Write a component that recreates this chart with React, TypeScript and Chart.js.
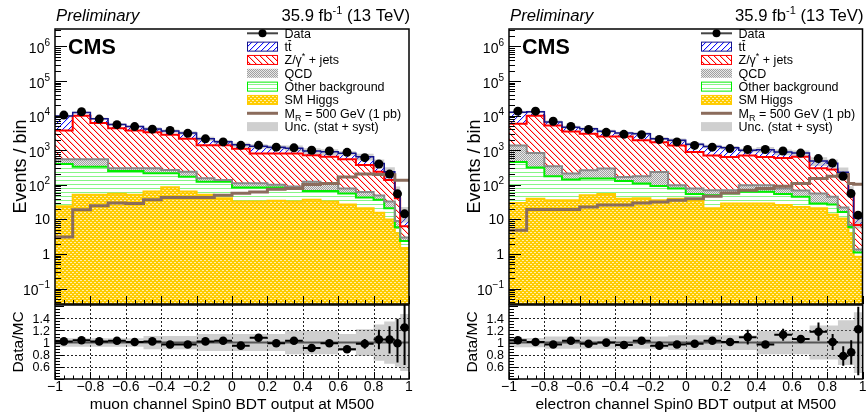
import React, { useEffect, useRef } from "react";
import { Chart, registerables } from "chart.js";

Chart.register(...registerables);

// ---------- binning / axes ----------
const BIN_EDGES = [-1, -0.9, -0.8, -0.7, -0.6, -0.5, -0.4, -0.3, -0.2, -0.1, 0, 0.1, 0.2, 0.3, 0.4, 0.5, 0.6, 0.7, 0.8, 0.86, 0.92, 0.95, 1];
const X_TICK_VALUES = [-1, -0.8, -0.6, -0.4, -0.2, 0, 0.2, 0.4, 0.6, 0.8, 1];
const X_TICK_LABELS = ["\u22121", "\u22120.8", "\u22120.6", "\u22120.4", "\u22120.2", "0", "0.2", "0.4", "0.6", "0.8", "1"];
const Y_DECADES = [0.1, 1, 10, 100, 1000, 1e4, 1e5, 1e6];
const Y_DECADE_BASES = ["10", "1", "10", "10", "10", "10", "10", "10"];
const Y_DECADE_EXPS = ["\u22121", "", "", "2", "3", "4", "5", "6"];
const RATIO_TICKS = [0.6, 0.8, 1, 1.2, 1.4];
const RATIO_TICK_LABELS = ["0.6", "0.8", "1", "1.2", "1.4"];
const Y_MIN = 0.036;
const Y_MAX = 3.2e6;
const R_MIN = 0.4;
const R_MAX = 1.62;

const MU_X_TITLE = "muon channel Spin0 BDT output at M500";
const EL_X_TITLE = "electron channel Spin0 BDT output at M500";

// ---------- muon channel ----------
const MU_HIGGS = [24, 52, 52, 55, 52, 64, 85, 64, 52, 41, 33, 33, 35, 33, 37, 33, 27, 21, 15.5, 10, 4, 1.5];
const MU_OTHER = [376, 281, 281, 195, 198, 151, 130, 109, 72, 83, 51, 51, 49, 47, 30, 34, 29, 22, 21.5, 11, 2, 0.9];
const MU_QCD = [150, 217, 217, 50, 50, 85, 55, 67, 31, 14, 28, 28, 16, 10, 57, 43, 22, 19, 12, 12, 3, 0.6];
const MU_DY = [3180, 9450, 5600, 4040, 3430, 3030, 2520, 1910, 1235, 1252, 998, 688, 700, 710, 596, 535, 472, 310, 191, 105, 32, 3.4];
const MU_TT = [6000, 2400, 2050, 1260, 1120, 810, 810, 1020, 760, 360, 340, 500, 430, 350, 240, 255, 270, 273, 175, 102, 23, 9.1];
const MU_SIGNAL = [3.1, 19, 25, 30, 29, 37, 43, 43, 43, 50, 57, 62, 75, 78, 102, 110, 170, 205, 200, 195, 137, 137];
const MU_DATA = [10400, 13000, 7950, 5500, 4840, 4070, 3720, 3090, 2140, 1740, 1390, 1390, 1230, 1175, 1000, 955, 870, 610, 400, 205, 55, 14.5];
const MU_RATIO = [1.02, 1.04, 1.02, 1.03, 1.01, 1.02, 0.97, 0.97, 1.02, 1.03, 0.95, 1.08, 0.99, 1.03, 0.91, 0.99, 0.89, 0.98, 1.05, 1.05, 0.99, 1.25];
const MU_RATIO_ERR_UP = [0.01, 0.01, 0.01, 0.015, 0.015, 0.015, 0.02, 0.02, 0.02, 0.025, 0.03, 0.03, 0.03, 0.03, 0.035, 0.035, 0.04, 0.08, 0.16, 0.22, 0.4, 0.5];
const MU_RATIO_ERR_DN = [0.01, 0.01, 0.01, 0.015, 0.015, 0.015, 0.02, 0.02, 0.02, 0.025, 0.03, 0.03, 0.03, 0.03, 0.035, 0.035, 0.04, 0.08, 0.16, 0.23, 0.32, 0.62];
const MU_UNC = [0.07, 0.07, 0.07, 0.07, 0.07, 0.11, 0.11, 0.11, 0.14, 0.14, 0.14, 0.14, 0.14, 0.19, 0.19, 0.19, 0.14, 0.22, 0.3, 0.35, 0.4, 0.47];

// ---------- electron channel ----------
const EL_HIGGS = [30, 40, 36, 36, 50, 54, 40, 41, 36, 40, 36, 21, 29, 29, 29, 26, 23, 21, 14, 10.7, 4, 0.83];
const EL_OTHER = [428, 275, 142, 106, 102, 98, 90, 68, 57, 38, 18, 29, 27, 34, 34, 28, 22, 8, 13, 5.8, 2.1, 0.27];
const EL_QCD = [922, 515, 167, 70, 112, 143, 39, 69, 142, 19, 24, 20, 14, 34, 34, 24, 24, 27, 18, 5.5, 0.8, 0.26];
const EL_DY = [4470, 9170, 4855, 3288, 2736, 2205, 2331, 1762, 1465, 1283, 812, 640, 565, 613, 543, 522, 581, 244, 235, 178, 53, 5.6];
const EL_TT = [6650, 3000, 1400, 1150, 1170, 1060, 640, 1060, 450, 560, 590, 580, 555, 290, 400, 290, 180, 190, 140, 31, 7, 4];
const EL_SIGNAL = [4.9, 19.4, 19.4, 19.4, 23, 26, 26, 30, 32, 36, 40, 47, 58, 70, 78, 91, 109, 152, 177, 200, 110, 104];
const EL_DATA = [13500, 13500, 6900, 4900, 4000, 3300, 2880, 2820, 2050, 1740, 1380, 1230, 1120, 1050, 1050, 950, 830, 575, 425, 178, 56, 13.3];
const EL_RATIO = [1.04, 1.01, 0.97, 1.03, 0.98, 1.0, 0.96, 1.03, 0.95, 0.97, 0.98, 1.03, 1.01, 1.09, 0.97, 1.13, 1.06, 1.18, 1.01, 0.78, 0.84, 1.22];
const EL_RATIO_ERR_UP = [0.01, 0.01, 0.015, 0.015, 0.02, 0.02, 0.02, 0.02, 0.025, 0.025, 0.03, 0.035, 0.035, 0.12, 0.04, 0.1, 0.06, 0.15, 0.13, 0.16, 0.2, 0.37];
const EL_RATIO_ERR_DN = [0.01, 0.01, 0.015, 0.015, 0.02, 0.02, 0.02, 0.02, 0.025, 0.025, 0.03, 0.035, 0.035, 0.12, 0.04, 0.1, 0.06, 0.15, 0.13, 0.16, 0.2, 0.76];
const EL_UNC = [0.075, 0.075, 0.1, 0.1, 0.1, 0.1, 0.1, 0.1, 0.1, 0.12, 0.12, 0.12, 0.12, 0.12, 0.19, 0.19, 0.19, 0.28, 0.28, 0.37, 0.37, 0.5];

// ---------- style ----------
const FONT = '"Liberation Sans", Arial, Helvetica, sans-serif';
const UNC_COLOR = "rgba(140,140,140,0.42)";
const COL_TT_LINE = "#14148c";
const COL_DY_LINE = "#ff0000";
const COL_QCD_LINE = "#888888";
const COL_OTHER_LINE = "#00ee00";
const COL_HIGGS_LINE = "#ffcc00";
const COL_SIGNAL = "rgb(139,108,92)";

type Panel = {
  left: number; width: number;
  higgs: number[]; other: number[]; qcd: number[]; dy: number[]; tt: number[];
  signal: number[]; data: number[]; ratio: number[]; errUp: number[]; errDn: number[]; unc: number[];
  xTitle: string;
};

const PANELS: Panel[] = [
  { left: 0, width: 433, higgs: MU_HIGGS, other: MU_OTHER, qcd: MU_QCD, dy: MU_DY, tt: MU_TT, signal: MU_SIGNAL, data: MU_DATA, ratio: MU_RATIO, errUp: MU_RATIO_ERR_UP, errDn: MU_RATIO_ERR_DN, unc: MU_UNC, xTitle: MU_X_TITLE },
  { left: 454, width: 413, higgs: EL_HIGGS, other: EL_OTHER, qcd: EL_QCD, dy: EL_DY, tt: EL_TT, signal: EL_SIGNAL, data: EL_DATA, ratio: EL_RATIO, errUp: EL_RATIO_ERR_UP, errDn: EL_RATIO_ERR_DN, unc: EL_UNC, xTitle: EL_X_TITLE },
];

const PLOT_L = 55;
const PLOT_R = 409;
const MAIN_T = 29;
const MAIN_B = 304;
const RATIO_T = 305;
const RATIO_B = 379;
const H = 412;

// ---------- helpers ----------
function stepPoints(vals: number[]) {
  const pts = vals.map((v, i) => ({ x: BIN_EDGES[i], y: v }));
  pts.push({ x: BIN_EDGES[vals.length], y: vals[vals.length - 1] });
  return pts;
}
function binCenters() {
  const c: number[] = [];
  for (let i = 0; i < BIN_EDGES.length - 1; i++) c.push((BIN_EDGES[i] + BIN_EDGES[i + 1]) / 2);
  return c;
}
function cumulative(layers: number[][]) {
  const out: number[][] = [];
  let run = layers[0].map(() => 0);
  layers.forEach((l) => {
    run = run.map((r, i) => r + l[i]);
    out.push(run.slice());
  });
  return out;
}

type Part = { t: string; size: number; dy?: number; style?: string };
function setFont(ctx: CanvasRenderingContext2D, p: Part) {
  ctx.font = `${p.style || ""} ${p.size}px ${FONT}`;
}
function drawRich(ctx: CanvasRenderingContext2D, parts: Part[], x: number, y: number, align: "left" | "right" | "center") {
  ctx.textAlign = "left";
  ctx.textBaseline = "alphabetic";
  const widths = parts.map((p) => { setFont(ctx, p); return ctx.measureText(p.t).width; });
  const total = widths.reduce((a, b) => a + b, 0);
  let cx = align === "left" ? x : align === "right" ? x - total : x - total / 2;
  parts.forEach((p, i) => {
    setFont(ctx, p);
    ctx.fillText(p.t, cx, y + (p.dy || 0));
    cx += widths[i];
  });
  return total;
}

function makeTile(w: number, h: number, draw: (g: CanvasRenderingContext2D) => void): CanvasPattern {
  const c = document.createElement("canvas");
  c.width = w; c.height = h;
  const g = c.getContext("2d")!;
  draw(g);
  return g.createPattern(c, "repeat")!;
}

function makePatterns() {
  const hatch = (color: string, forward: boolean, soft: number) =>
    makeTile(6, 6, (g) => {
      g.fillStyle = "#ffffff"; g.fillRect(0, 0, 6, 6);
      g.fillStyle = color;
      for (let i = 0; i < 6; i++) {
        const x = forward ? 5 - i : i;
        g.fillRect(x, i, 1, 1);
      }
      if (soft > 0) {
        g.globalAlpha = soft;
        for (let i = 0; i < 6; i++) {
          const x = forward ? (6 - i) % 6 : (i + 1) % 6;
          g.fillRect(x, i, 1, 1);
        }
      }
    });
  const tt = hatch("#1010ff", true, 0.15);
  const dy = hatch("#ff0000", false, 0.25);
  const other = makeTile(4, 4, (g) => {
    g.fillStyle = "#ffffff"; g.fillRect(0, 0, 4, 4);
    g.fillStyle = "rgb(135,245,135)"; g.fillRect(0, 0, 4, 1);
  });
  const qcd = makeTile(2, 2, (g) => {
    g.fillStyle = "rgb(232,232,232)"; g.fillRect(0, 0, 2, 2);
    g.fillStyle = "rgb(160,160,160)"; g.fillRect(0, 0, 1, 1); g.fillRect(1, 1, 1, 1);
  });
  const higgs = makeTile(4, 4, (g) => {
    g.fillStyle = "#ffcc00"; g.fillRect(0, 0, 4, 4);
    g.fillStyle = "rgb(255,238,170)";
    g.fillRect(0, 0, 1, 1); g.fillRect(1, 0, 1, 1); g.fillRect(2, 2, 1, 1); g.fillRect(3, 2, 1, 1);
  });
  return { tt, dy, other, qcd, higgs };
}
type Pats = ReturnType<typeof makePatterns>;

// ---------- main (log) chart ----------
function mainConfig(p: Panel, pats: Pats): any {
  const cum = cumulative([p.higgs, p.other, p.qcd, p.dy, p.tt]);
  const total = cum[4];
  const centers = binCenters();
  const base = { stepped: true, pointRadius: 0, tension: 0 };
  const datasets = [
    { ...base, data: stepPoints(cum[0]), fill: "start", backgroundColor: pats.higgs, borderColor: COL_HIGGS_LINE, borderWidth: 2, order: 9 },
    { ...base, data: stepPoints(cum[1]), fill: "-1", backgroundColor: pats.other, borderColor: COL_OTHER_LINE, borderWidth: 2, order: 8 },
    { ...base, data: stepPoints(cum[2]), fill: "-1", backgroundColor: pats.qcd, borderColor: COL_QCD_LINE, borderWidth: 2, order: 7 },
    { ...base, data: stepPoints(cum[3]), fill: "-1", backgroundColor: pats.dy, borderColor: COL_DY_LINE, borderWidth: 2, order: 6 },
    { ...base, data: stepPoints(cum[4]), fill: "-1", backgroundColor: pats.tt, borderColor: COL_TT_LINE, borderWidth: 1.5, order: 5 },
    { ...base, data: stepPoints(total.map((t, i) => t * (1 - p.unc[i]))), fill: false, borderColor: "rgba(0,0,0,0)", borderWidth: 1, order: 4 },
    { ...base, data: stepPoints(total.map((t, i) => t * (1 + p.unc[i]))), fill: "-1", backgroundColor: UNC_COLOR, borderColor: "rgba(0,0,0,0)", borderWidth: 1, order: 3 },
    { ...base, data: stepPoints(p.signal), fill: false, borderColor: COL_SIGNAL, borderWidth: 3, order: 2 },
    { data: centers.map((x, i) => ({ x, y: p.data[i] })), showLine: false, pointRadius: 4.5, pointBackgroundColor: "#000", pointBorderColor: "#000", pointBorderWidth: 0, fill: false, order: 1 },
  ];

  const plugin = {
    id: "rootMain",
    afterDraw(chart: any) {
      const ctx: CanvasRenderingContext2D = chart.ctx;
      const a = chart.chartArea;
      const xs = chart.scales.x;
      const ys = chart.scales.y;
      ctx.save();
      ctx.fillStyle = "#000";
      ctx.strokeStyle = "#000";
      // ticks
      ctx.lineWidth = 1;
      ctx.beginPath();
      for (let e = -2; e <= 6; e++) {
        for (let k = 1; k <= 9; k++) {
          const v = k * Math.pow(10, e);
          if (v < ys.min || v > ys.max) continue;
          const y = Math.round(ys.getPixelForValue(v)) + 0.5;
          const len = k === 1 ? 12 : 6;
          ctx.moveTo(a.left, y); ctx.lineTo(a.left + len, y);
        }
      }
      for (let i = 0; i <= 40; i++) {
        const v = -1 + i * 0.05;
        const x = Math.round(xs.getPixelForValue(v)) + 0.5;
        const len = i % 4 === 0 ? 8 : 4;
        ctx.moveTo(x, a.bottom); ctx.lineTo(x, a.bottom - len);
      }
      ctx.stroke();
      // frame
      ctx.lineWidth = 1.5;
      ctx.strokeRect(a.left, a.top, a.right - a.left, a.bottom - a.top);

      // y tick labels
      Y_DECADES.forEach((v, i) => {
        const y = ys.getPixelForValue(v);
        const baseTxt = Y_DECADE_BASES[i];
        const exp = Y_DECADE_EXPS[i];
        const parts: Part[] = [{ t: baseTxt, size: 14 }];
        if (exp) parts.push({ t: exp, size: 10, dy: -7 });
        drawRich(ctx, parts, a.left - 5, y + (exp ? 6.5 : 5), "right");
      });

      // y title
      ctx.save();
      ctx.translate(25.5, (a.top + a.bottom) / 2);
      ctx.rotate(-Math.PI / 2);
      drawRich(ctx, [{ t: "Events / bin", size: 18 }], 0, 0, "center");
      ctx.restore();

      // header
      drawRich(ctx, [{ t: "Preliminary", size: 16.7, style: "italic" }], a.left + 1, 20.5, "left");
      drawRich(ctx, [
        { t: "35.9 fb", size: 16.7 },
        { t: "-1", size: 11, dy: -7 },
        { t: " (13 TeV)", size: 16.7 },
      ], a.right + 1, 20.5, "right");
      drawRich(ctx, [{ t: "CMS", size: 21.5, style: "bold" }], a.left + 13, 54, "left");

      // legend
      const sx = a.left + 192;
      const sw = 31;
      const tx = a.left + 229.5;
      const row = (i: number) => 33.3 + 13.33 * i;
      const fs = 12.5;
      const box = (i: number, fill: any, stroke: string | null) => {
        const y = row(i);
        ctx.fillStyle = fill;
        ctx.fillRect(sx, y - 4.5, sw, 9);
        if (stroke) {
          ctx.strokeStyle = stroke; ctx.lineWidth = 1;
          ctx.strokeRect(sx + 0.5, y - 4.5, sw - 1, 9);
        }
        ctx.fillStyle = "#000";
      };
      // Data
      ctx.strokeStyle = "#444"; ctx.lineWidth = 2;
      ctx.beginPath(); ctx.moveTo(sx, row(0)); ctx.lineTo(sx + sw, row(0)); ctx.stroke();
      ctx.fillStyle = "#000";
      ctx.beginPath(); ctx.arc(sx + sw / 2, row(0), 4, 0, Math.PI * 2); ctx.fill();
      box(1, pats.tt, COL_TT_LINE);
      box(2, pats.dy, COL_DY_LINE);
      box(3, pats.qcd, null);
      box(4, pats.other, COL_OTHER_LINE);
      box(5, pats.higgs, COL_HIGGS_LINE);
      ctx.strokeStyle = COL_SIGNAL; ctx.lineWidth = 3;
      ctx.beginPath(); ctx.moveTo(sx, row(6)); ctx.lineTo(sx + sw, row(6)); ctx.stroke();
      box(7, UNC_COLOR, null);

      ctx.fillStyle = "#000";
      const by = (i: number) => row(i) + 4.5;
      drawRich(ctx, [{ t: "Data", size: fs }], tx, by(0), "left");
      drawRich(ctx, [{ t: "tt", size: fs }], tx, by(1), "left");
      ctx.font = `${fs}px ${FONT}`;
      const w1 = ctx.measureText("t").width;
      const w2 = ctx.measureText("tt").width;
      ctx.strokeStyle = "#000"; ctx.lineWidth = 1;
      ctx.beginPath(); ctx.moveTo(tx + w1 + 0.3, by(1) - 10.5); ctx.lineTo(tx + w2 - 0.3, by(1) - 10.5); ctx.stroke();
      drawRich(ctx, [{ t: "Z/\u03b3", size: fs }, { t: "*", size: 9, dy: -5 }, { t: " + jets", size: fs }], tx, by(2), "left");
      drawRich(ctx, [{ t: "QCD", size: fs }], tx, by(3), "left");
      drawRich(ctx, [{ t: "Other background", size: fs }], tx, by(4), "left");
      drawRich(ctx, [{ t: "SM Higgs", size: fs }], tx, by(5), "left");
      drawRich(ctx, [{ t: "M", size: fs }, { t: "R", size: 9, dy: 3 }, { t: " = 500 GeV (1 pb)", size: fs }], tx, by(6), "left");
      drawRich(ctx, [{ t: "Unc. (stat + syst)", size: fs }], tx, by(7), "left");
      ctx.restore();
    },
  };

  return {
    type: "line",
    data: { datasets },
    options: {
      animation: false,
      responsive: false,
      events: [],
      layout: { padding: { left: PLOT_L, right: p.width - PLOT_R, top: MAIN_T, bottom: H - MAIN_B } },
      plugins: { legend: { display: false }, tooltip: { enabled: false }, title: { display: false }, filler: { drawTime: "beforeDatasetsDraw", propagate: false } },
      scales: {
        x: { type: "linear", min: -1, max: 1, display: false },
        y: { type: "logarithmic", min: Y_MIN, max: Y_MAX, display: false },
      },
    },
    plugins: [plugin],
  };
}

// ---------- ratio chart ----------
function ratioConfig(p: Panel): any {
  const centers = binCenters();
  const base = { stepped: true, pointRadius: 0, tension: 0 };
  const datasets = [
    { ...base, data: stepPoints(p.unc.map((u) => 1 - u)), fill: false, borderColor: "rgba(0,0,0,0)", borderWidth: 1, order: 4 },
    { ...base, data: stepPoints(p.unc.map((u) => 1 + u)), fill: "-1", backgroundColor: UNC_COLOR, borderColor: "rgba(0,0,0,0)", borderWidth: 1, order: 3 },
    { data: [{ x: -1, y: 1 }, { x: 1, y: 1 }], pointRadius: 0, fill: false, borderColor: "#555", borderWidth: 2, order: 2 },
    { data: centers.map((x, i) => ({ x, y: p.ratio[i] })), showLine: false, pointRadius: 4.3, pointBackgroundColor: "#000", pointBorderColor: "#000", pointBorderWidth: 0, fill: false, order: 1 },
  ];

  const plugin = {
    id: "rootRatio",
    beforeDraw(chart: any) {
      const ctx: CanvasRenderingContext2D = chart.ctx;
      const a = chart.chartArea;
      const xs = chart.scales.x;
      const ys = chart.scales.y;
      ctx.save();
      ctx.strokeStyle = "#222";
      ctx.lineWidth = 1;
      ctx.setLineDash([2, 2]);
      ctx.beginPath();
      RATIO_TICKS.forEach((v) => {
        if (v === 1) return;
        const y = Math.round(ys.getPixelForValue(v)) + 0.5;
        ctx.moveTo(a.left, y); ctx.lineTo(a.right, y);
      });
      X_TICK_VALUES.forEach((v) => {
        if (v === -1 || v === 1) return;
        const x = Math.round(xs.getPixelForValue(v)) + 0.5;
        ctx.moveTo(x, a.top); ctx.lineTo(x, a.bottom);
      });
      ctx.stroke();
      ctx.restore();
    },
    afterDatasetsDraw(chart: any) {
      const ctx: CanvasRenderingContext2D = chart.ctx;
      const a = chart.chartArea;
      const xs = chart.scales.x;
      const ys = chart.scales.y;
      ctx.save();
      ctx.beginPath();
      ctx.rect(a.left, a.top, a.right - a.left, a.bottom - a.top);
      ctx.clip();
      ctx.strokeStyle = "#000";
      ctx.lineWidth = 2;
      ctx.beginPath();
      p.ratio.forEach((r, i) => {
        const y = ys.getPixelForValue(r);
        ctx.moveTo(xs.getPixelForValue(BIN_EDGES[i]), y);
        ctx.lineTo(xs.getPixelForValue(BIN_EDGES[i + 1]), y);
        const xc = xs.getPixelForValue(centers[i]);
        ctx.moveTo(xc, ys.getPixelForValue(r + p.errUp[i]));
        ctx.lineTo(xc, ys.getPixelForValue(r - p.errDn[i]));
      });
      ctx.stroke();
      ctx.restore();
    },
    afterDraw(chart: any) {
      const ctx: CanvasRenderingContext2D = chart.ctx;
      const a = chart.chartArea;
      const xs = chart.scales.x;
      const ys = chart.scales.y;
      ctx.save();
      ctx.fillStyle = "#000";
      ctx.strokeStyle = "#000";
      ctx.lineWidth = 1;
      ctx.beginPath();
      for (let i = 0; i * 0.05 <= R_MAX - 0.4 + 1e-9; i++) {
        const v = 0.4 + i * 0.05;
        if (v < ys.min || v > ys.max) continue;
        const y = Math.round(ys.getPixelForValue(v)) + 0.5;
        const len = i % 4 === 0 ? 9 : 5;
        ctx.moveTo(a.left, y); ctx.lineTo(a.left + len, y);
      }
      for (let i = 0; i <= 40; i++) {
        const v = -1 + i * 0.05;
        const x = Math.round(xs.getPixelForValue(v)) + 0.5;
        const len = i % 4 === 0 ? 7 : 3.5;
        ctx.moveTo(x, a.bottom); ctx.lineTo(x, a.bottom - len);
      }
      ctx.stroke();
      ctx.lineWidth = 1.5;
      ctx.strokeRect(a.left, a.top, a.right - a.left, a.bottom - a.top);

      RATIO_TICKS.forEach((v, i) => {
        drawRich(ctx, [{ t: RATIO_TICK_LABELS[i], size: 12.5 }], a.left - 5, ys.getPixelForValue(v) + 4.5, "right");
      });
      X_TICK_VALUES.forEach((v, i) => {
        drawRich(ctx, [{ t: X_TICK_LABELS[i], size: 14 }], xs.getPixelForValue(v), 391, "center");
      });
      drawRich(ctx, [{ t: p.xTitle, size: 15.5 }], (a.left + a.right) / 2, 408.5, "center");
      ctx.save();
      ctx.translate(22.5, (a.top + a.bottom) / 2);
      ctx.rotate(-Math.PI / 2);
      drawRich(ctx, [{ t: "Data/MC", size: 15.5 }], 0, 0, "center");
      ctx.restore();
      ctx.restore();
    },
  };

  return {
    type: "line",
    data: { datasets },
    options: {
      animation: false,
      responsive: false,
      events: [],
      layout: { padding: { left: PLOT_L, right: p.width - PLOT_R, top: RATIO_T, bottom: H - RATIO_B } },
      plugins: { legend: { display: false }, tooltip: { enabled: false }, title: { display: false }, filler: { drawTime: "beforeDatasetsDraw", propagate: false } },
      scales: {
        x: { type: "linear", min: -1, max: 1, display: false },
        y: { type: "linear", min: R_MIN, max: R_MAX, display: false },
      },
    },
    plugins: [plugin],
  };
}

export default function App() {
  const m0 = useRef<HTMLCanvasElement>(null);
  const r0 = useRef<HTMLCanvasElement>(null);
  const m1 = useRef<HTMLCanvasElement>(null);
  const r1 = useRef<HTMLCanvasElement>(null);
  const mains = [m0, m1];
  const ratios = [r0, r1];

  useEffect(() => {
    const pats = makePatterns();
    const charts: Chart[] = [];
    PANELS.forEach((p, k) => {
      charts.push(new Chart(mains[k].current!, mainConfig(p, pats)));
      charts.push(new Chart(ratios[k].current!, ratioConfig(p)));
    });
    return () => charts.forEach((c) => c.destroy());
  }, []);

  return (
    <div style={{ position: "fixed", left: 0, top: 0, width: 867, height: H, background: "#fff" }}>
      {PANELS.map((p, k) => (
        <React.Fragment key={k}>
          <canvas ref={mains[k]} width={p.width} height={H} style={{ position: "absolute", left: p.left, top: 0, width: p.width, height: H }} />
          <canvas ref={ratios[k]} width={p.width} height={H} style={{ position: "absolute", left: p.left, top: 0, width: p.width, height: H }} />
        </React.Fragment>
      ))}
    </div>
  );
}
